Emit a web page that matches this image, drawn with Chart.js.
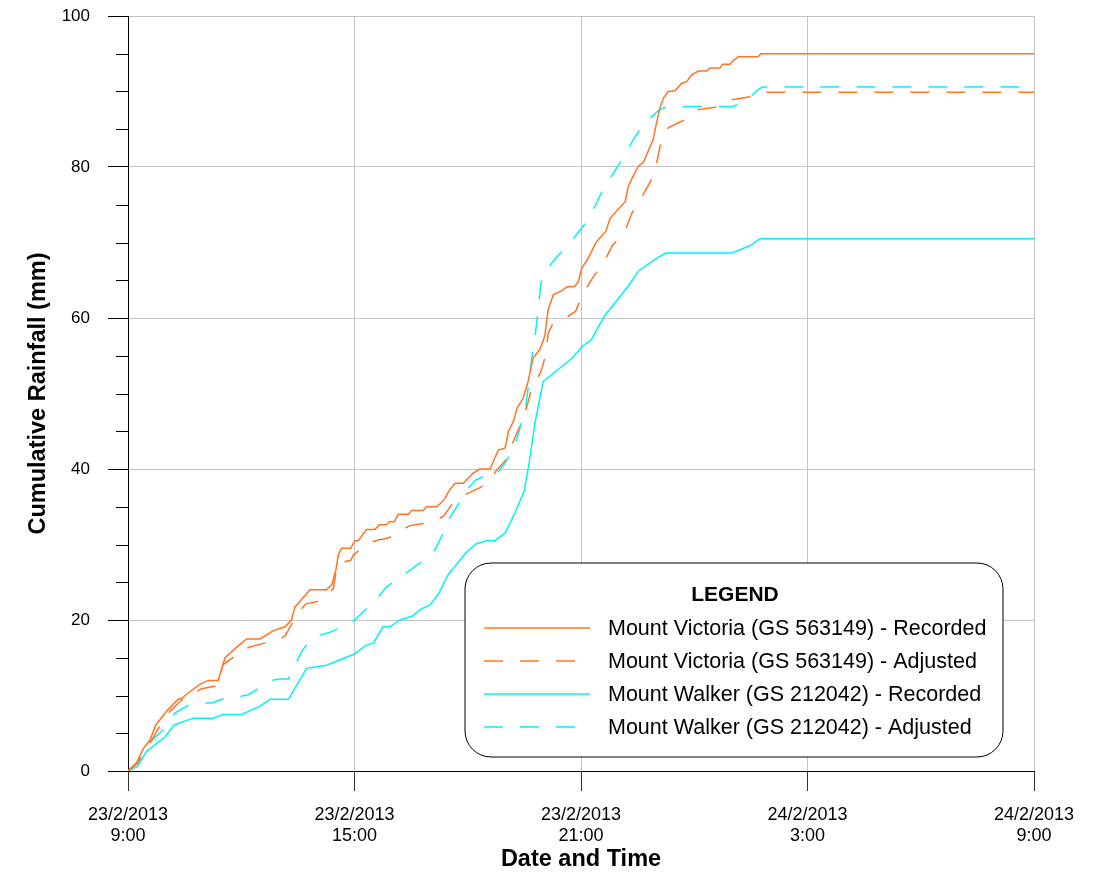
<!DOCTYPE html>
<html>
<head>
<meta charset="utf-8">
<title>Cumulative Rainfall</title>
<script src="https://cdn.jsdelivr.net/npm/chart.js@4.4.0/dist/chart.umd.min.js"></script>
<style>
  html, body { margin: 0; padding: 0; background: #ffffff; }
</style>
</head>
<body>
<canvas id="rain-chart" width="1097" height="877"></canvas>
<script>
// hours after 23/2/2013 9:00, cumulative rainfall in mm
const vicRecHours = [0, 0.23, 0.41, 0.58, 0.74, 1.02, 1.33, 1.42, 1.51, 1.64, 1.91, 2.13, 2.39, 2.57, 2.88, 3.14, 3.50, 3.85, 4.16, 4.33,
  4.42, 4.82, 5.26, 5.40, 5.51, 5.57, 5.66, 5.90, 6.01, 6.10, 6.32, 6.54, 6.66, 6.85, 6.92, 7.05, 7.16, 7.43, 7.51, 7.82,
  7.91, 8.17, 8.31, 8.40, 8.49, 8.66, 8.88, 9.15, 9.32, 9.59, 9.72, 9.81, 9.99, 10.08, 10.21, 10.31, 10.47, 10.60, 10.73, 10.91,
  11.04, 11.13, 11.27, 11.49, 11.62, 11.84, 11.93, 12.02, 12.19, 12.41, 12.66, 12.77, 13.17, 13.25, 13.38, 13.52, 13.65, 13.91, 14.00, 14.09,
  14.18, 14.31, 14.49, 14.67, 14.80, 14.93, 15.11, 15.33, 15.42, 15.68, 15.75, 15.95, 16.03, 16.17, 16.70, 16.76, 24];
const vicRecMm = [0, 1.1, 3.0, 4.1, 6.1, 7.9, 9.5, 9.6, 10.0, 10.5, 11.5, 12.0, 12.0, 15.0, 16.4, 17.5, 17.5, 18.6, 19.1, 20.0,
  21.7, 24.0, 24.0, 24.7, 26.7, 28.6, 29.5, 29.5, 30.5, 30.5, 32.0, 32.0, 32.6, 32.6, 33.0, 33.0, 34.0, 34.0, 34.5, 34.5,
  35.0, 35.0, 35.6, 36.1, 37.0, 38.1, 38.1, 39.5, 40.0, 40.0, 41.5, 42.5, 42.8, 45.0, 46.3, 48.1, 49.4, 51.6, 54.7, 55.8,
  57.6, 61.1, 63.1, 63.6, 64.1, 64.2, 64.8, 66.6, 67.9, 70.1, 71.5, 73.2, 75.4, 77.4, 78.8, 80.1, 80.6, 83.6, 85.8, 87.8,
  89.1, 90.0, 90.1, 91.1, 91.3, 92.2, 92.7, 92.7, 93.1, 93.1, 93.6, 93.6, 94.1, 94.6, 94.6, 95.0, 95.0];

const vicAdjHours = [0, 0.25, 0.45, 0.6, 0.8, 1.13, 1.42, 1.6, 1.95, 2.35, 2.52, 2.83, 3.0, 3.27, 3.67, 3.95, 4.16, 4.38, 4.5, 4.71,
  5.13, 5.3, 5.44, 5.55, 5.90, 5.97, 6.19, 6.45, 6.63, 6.85, 7.05, 7.2, 7.47, 7.87, 8.1, 8.35, 8.62, 8.85, 9.06, 9.43,
  9.6, 9.74, 10.01, 10.21, 10.40, 10.58, 10.69, 10.85, 10.96, 11.07, 11.13, 11.25, 11.42, 11.65, 11.86, 12.04, 12.32, 12.59, 12.83, 13.15,
  13.34, 13.59, 13.85, 14.00, 14.11, 14.31, 14.55, 14.77, 15.11, 15.64, 15.99, 16.48, 16.62, 16.79, 24];
const vicAdjMm = [0, 1.0, 2.8, 3.8, 5.6, 8.0, 9.4, 9.9, 10.9, 11.3, 14.1, 15.2, 16.0, 16.5, 17.0, 17.2, 17.9, 19.8, 21.0, 22.1,
  22.6, 23.2, 24.2, 27.5, 27.9, 28.6, 29.5, 30.3, 30.6, 30.8, 31.2, 31.8, 32.5, 32.8, 33.2, 33.7, 35.6, 36.4, 36.9, 37.8,
  38.4, 39.7, 41.2, 43.7, 45.9, 48.5, 50.7, 52.0, 53.2, 55.2, 58.0, 59.2, 59.6, 60.2, 60.9, 63.1, 65.4, 67.2, 69.6, 71.3,
  73.8, 75.8, 78.2, 80.4, 83.1, 85.2, 85.8, 86.3, 87.6, 88.0, 88.9, 89.3, 89.4, 89.9, 89.9];

const walRecHours = [0, 0.25, 0.49, 0.98, 1.22, 1.73, 2.26, 2.51, 3.01, 3.50, 3.76, 4.25, 4.73, 5.26, 6.00, 6.29, 6.51, 6.75, 6.94, 7.21,
  7.52, 7.78, 8.00, 8.22, 8.48, 8.97, 9.23, 9.50, 9.72, 9.99, 10.25, 10.49, 10.61, 10.78, 11.00, 11.75, 12.02, 12.27, 12.51, 12.64,
  13.25, 13.52, 14.00, 14.25, 15.99, 16.48, 16.74, 24];
const walRecMm = [0, 0.6, 2.6, 4.5, 6.1, 7.0, 7.0, 7.5, 7.5, 8.6, 9.5, 9.5, 13.6, 14.0, 15.5, 16.6, 17.0, 19.1, 19.1, 20.0,
  20.5, 21.5, 22.0, 23.4, 26.0, 29.0, 30.1, 30.5, 30.5, 31.5, 34.2, 37.0, 40.3, 46.1, 51.6, 54.6, 56.2, 57.1, 59.3, 60.4,
  64.2, 66.2, 67.9, 68.6, 68.6, 69.6, 70.5, 70.5];

const walAdjHours = [0, 0.3, 0.58, 0.94, 1.1, 1.25, 1.64, 1.9, 2.22, 2.61, 2.9, 3.19, 3.54, 3.8, 4.03, 4.25, 4.36, 4.60, 4.86, 5.1,
  5.37, 5.79, 6.0, 6.23, 6.54, 6.85, 7.2, 7.45, 7.69, 8.0, 8.15, 8.31, 8.49, 8.77, 9.02, 9.2, 9.46, 9.72, 9.99, 10.16,
  10.30, 10.41, 10.53, 10.62, 10.69, 10.77, 10.83, 10.88, 10.94, 11.05, 11.15, 11.29, 11.46, 11.81, 12.11, 12.37, 12.57, 12.86, 13.12, 13.38,
  13.65, 14.05, 14.27, 16.03, 16.45, 16.7, 16.8, 24];
const walAdjMm = [0, 1.5, 3.8, 5.5, 6.8, 7.7, 8.8, 9.0, 9.0, 9.7, 9.8, 10.1, 11.2, 12.0, 12.2, 12.2, 13.4, 15.8, 17.6, 18.0,
  18.4, 19.5, 20.0, 21.1, 22.5, 24.4, 25.6, 26.5, 27.4, 28.4, 29.5, 31.1, 33.3, 35.5, 37.5, 38.5, 39.1, 39.1, 40.8, 42.3,
  44.0, 45.9, 48.1, 51.5, 54.5, 57.1, 59.5, 62.0, 64.6, 66.2, 66.8, 67.7, 68.6, 70.6, 72.5, 74.8, 76.9, 79.2, 81.2, 83.6,
  85.6, 87.5, 88.0, 88.0, 89.1, 90.3, 90.6, 90.6];

const seriesNames = [
  'Mount Victoria (GS 563149) - Recorded',
  'Mount Victoria (GS 563149) - Adjusted',
  'Mount Walker (GS 212042) - Recorded',
  'Mount Walker (GS 212042) - Adjusted'
];
const timeTickLabels = [
  ['23/2/2013', '9:00'],
  ['23/2/2013', '15:00'],
  ['23/2/2013', '21:00'],
  ['24/2/2013', '3:00'],
  ['24/2/2013', '9:00']
];

const ORANGE = '#ff7424';
const CYAN = '#00f4f4';
const DASH = [19, 17];
const FONT = "'Liberation Sans', Arial, sans-serif";

function toPoints(hours, mm) {
  return hours.map((h, i) => ({ x: h, y: mm[i] }));
}

// short minor ticks on the y axis (every 5 mm)
const minorTicks = {
  id: 'minorTicks',
  afterDraw(chart) {
    const ctx = chart.ctx;
    const ys = chart.scales.y;
    const left = chart.chartArea.left;
    ctx.save();
    ctx.strokeStyle = '#000000';
    ctx.lineWidth = 1;
    for (let v = 5; v < 100; v += 5) {
      if (v % 20 === 0) continue;
      const py = Math.round(ys.getPixelForValue(v)) + 0.5;
      ctx.beginPath();
      ctx.moveTo(left - 12, py);
      ctx.lineTo(left, py);
      ctx.stroke();
    }
    ctx.restore();
  }
};

// rounded legend box inside the plot
const boxLegend = {
  id: 'boxLegend',
  afterDraw(chart) {
    const ctx = chart.ctx;
    const x = 465, y = 563, w = 538, h = 194, r = 26;
    ctx.save();
    ctx.beginPath();
    ctx.moveTo(x + r, y);
    ctx.arcTo(x + w, y, x + w, y + h, r);
    ctx.arcTo(x + w, y + h, x, y + h, r);
    ctx.arcTo(x, y + h, x, y, r);
    ctx.arcTo(x, y, x + w, y, r);
    ctx.closePath();
    ctx.fillStyle = '#ffffff';
    ctx.fill();
    ctx.strokeStyle = '#000000';
    ctx.lineWidth = 1;
    ctx.stroke();

    ctx.fillStyle = '#000000';
    ctx.textBaseline = 'middle';
    ctx.textAlign = 'center';
    ctx.font = 'bold 21px ' + FONT;
    ctx.fillText('LEGEND', x + 270, y + 32);

    ctx.textAlign = 'left';
    ctx.font = '21.5px ' + FONT;
    chart.data.datasets.forEach((ds, i) => {
      const ly = y + 65 + i * 33;
      ctx.beginPath();
      ctx.strokeStyle = ds.borderColor;
      ctx.lineWidth = ds.borderWidth;
      ctx.setLineDash(ds.borderDash || []);
      ctx.moveTo(x + 19, ly);
      ctx.lineTo(x + 125, ly);
      ctx.stroke();
      ctx.setLineDash([]);
      ctx.fillText(ds.label, x + 143, ly + 1);
    });
    ctx.restore();
  }
};

new Chart(document.getElementById('rain-chart'), {
  type: 'line',
  data: {
    datasets: [
      { label: seriesNames[0], data: toPoints(vicRecHours, vicRecMm), borderColor: ORANGE, borderWidth: 1.5, pointRadius: 0 },
      { label: seriesNames[1], data: toPoints(vicAdjHours, vicAdjMm), borderColor: ORANGE, borderWidth: 1.5, borderDash: DASH, pointRadius: 0 },
      { label: seriesNames[2], data: toPoints(walRecHours, walRecMm), borderColor: CYAN, borderWidth: 1.5, pointRadius: 0 },
      { label: seriesNames[3], data: toPoints(walAdjHours, walAdjMm), borderColor: CYAN, borderWidth: 1.5, borderDash: DASH, pointRadius: 0 }
    ]
  },
  options: {
    responsive: false,
    animation: false,
    layout: { padding: { left: 0, top: 16, right: 63, bottom: 0 } },
    plugins: {
      legend: { display: false },
      tooltip: { enabled: false }
    },
    scales: {
      x: {
        type: 'linear',
        min: 0,
        max: 24,
        afterFit(scale) { scale.height = 106; },
        ticks: {
          stepSize: 6,
          autoSkip: false,
          maxRotation: 0,
          padding: 13,
          color: '#000000',
          font: { family: FONT, size: 18 },
          callback: (v) => timeTickLabels[v / 6]
        },
        grid: { color: '#c4c4c4', tickColor: '#333333', tickLength: 20 },
        border: { color: '#000000' },
        title: {
          display: true,
          text: 'Date and Time',
          color: '#000000',
          font: { family: FONT, size: 23.5, weight: 'bold' },
          padding: { top: 0, bottom: 3 }
        }
      },
      y: {
        min: 0,
        max: 100,
        afterFit(scale) {
          scale.width = 128;
          // tick padding would otherwise push the plot top down
          scale.paddingTop = 0;
          scale.paddingBottom = 0;
        },
        ticks: {
          stepSize: 5,
          autoSkip: false,
          padding: 18,
          color: '#000000',
          font: { family: FONT, size: 17 },
          callback: (v) => (v % 20 === 0 ? String(v) : '')
        },
        grid: {
          color: (c) => (c.tick && c.tick.value % 20 === 0 ? '#c4c4c4' : 'rgba(0,0,0,0)'),
          tickColor: (c) => (c.tick && c.tick.value % 20 === 0 ? '#000000' : 'rgba(0,0,0,0)'),
          tickLength: 20
        },
        border: { color: '#000000' },
        title: {
          display: true,
          text: 'Cumulative Rainfall (mm)',
          color: '#000000',
          font: { family: FONT, size: 23.5, weight: 'bold' },
          padding: { top: 24, bottom: 0 }
        }
      }
    }
  },
  plugins: [minorTicks, boxLegend]
});
</script>
</body>
</html>
